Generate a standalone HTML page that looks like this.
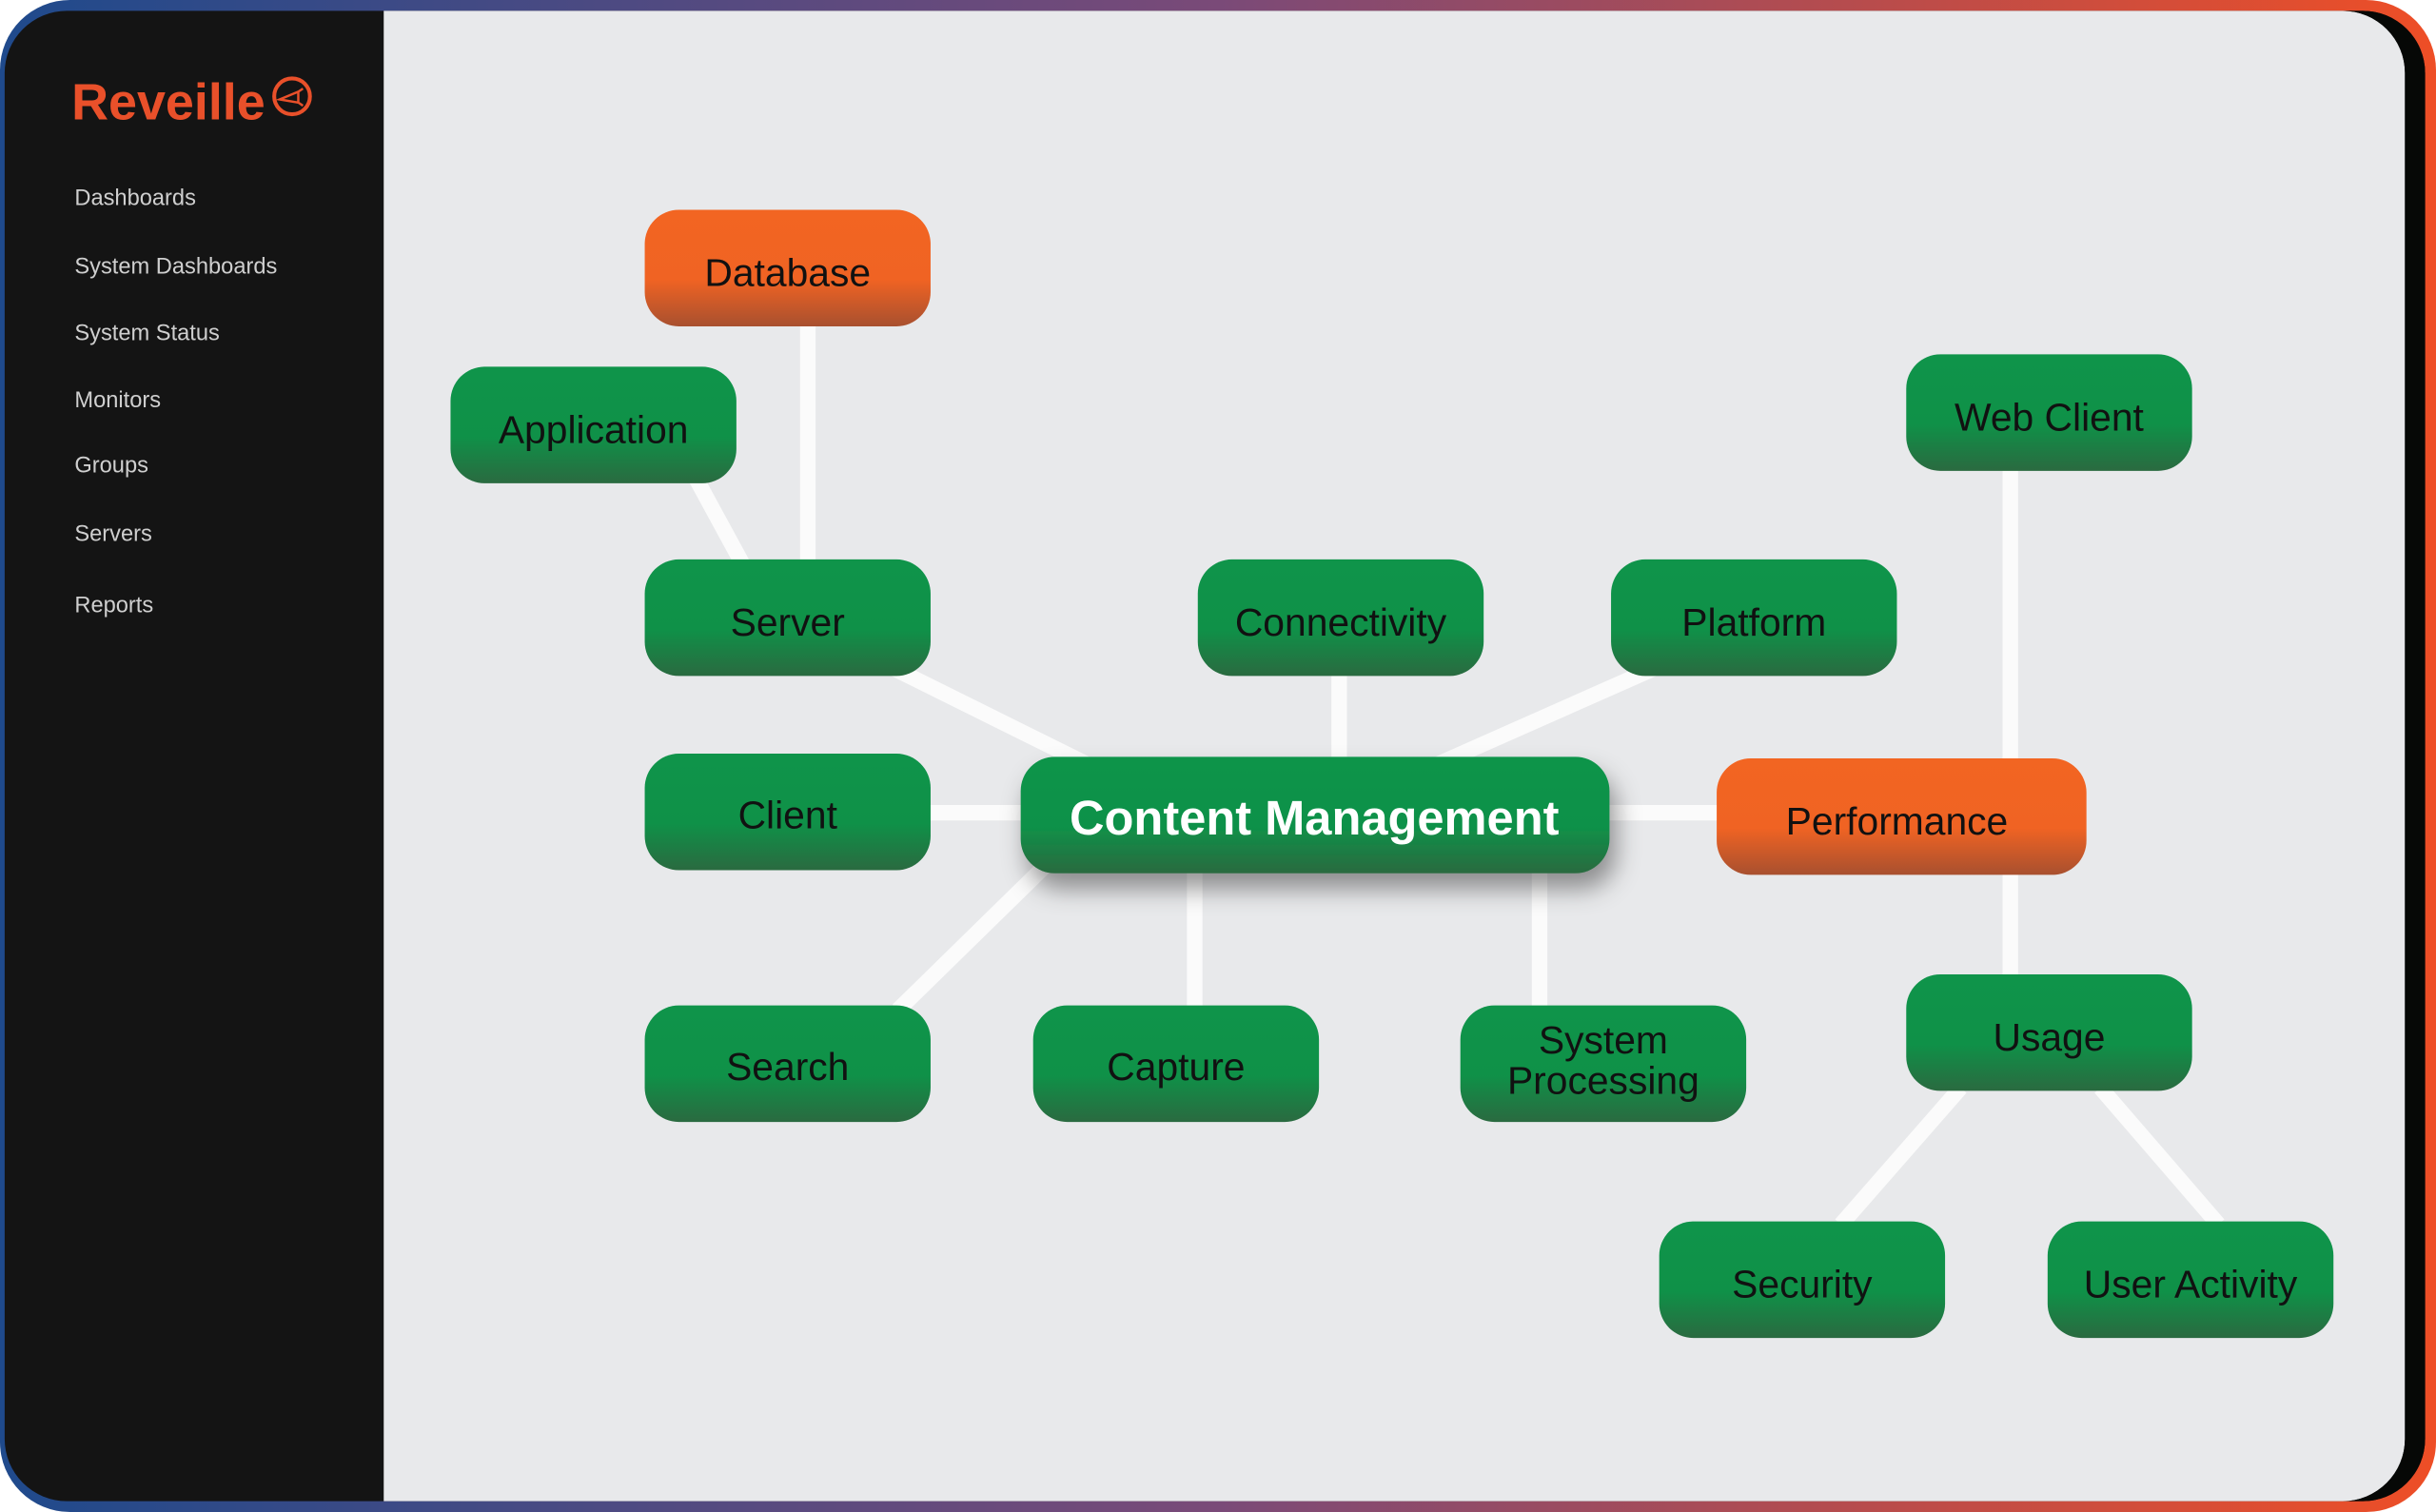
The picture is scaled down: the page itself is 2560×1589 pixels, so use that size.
<!DOCTYPE html>
<html><head><meta charset="utf-8"><style>
html,body{margin:0;padding:0;background:#fff;}
svg{display:block;}
text{font-family:"Liberation Sans",sans-serif;}
</style></head><body>
<svg width="2560" height="1589" viewBox="0 0 1568 973" preserveAspectRatio="none" xmlns="http://www.w3.org/2000/svg">
<defs>
<linearGradient id="bd" x1="0" y1="0" x2="1" y2="0">
<stop offset="0" stop-color="#1f4a8c"/><stop offset="0.5" stop-color="#7a4a78"/><stop offset="1" stop-color="#ee4e26"/>
</linearGradient>
<linearGradient id="gg" x1="0" y1="0" x2="0" y2="1">
<stop offset="0" stop-color="#0f944a"/><stop offset="0.6" stop-color="#0f9148"/><stop offset="1" stop-color="#2a6a40"/>
</linearGradient>
<linearGradient id="og" x1="0" y1="0" x2="0" y2="1">
<stop offset="0" stop-color="#f26522"/><stop offset="0.6" stop-color="#f06323"/><stop offset="1" stop-color="#a8502f"/>
</linearGradient>
<filter id="sh" x="-20%" y="-40%" width="140%" height="200%"><feDropShadow dx="4" dy="10" stdDeviation="8" flood-color="#000" flood-opacity="0.4"/></filter>
</defs>
<rect x="0" y="0" width="1568" height="973" rx="45" fill="url(#bd)"/>
<rect x="3" y="7" width="1558" height="959" rx="40" fill="#141414"/>
<path d="M247 7 H1508 A40 40 0 0 1 1548 47 V926 A40 40 0 0 1 1508 966 H247 Z" fill="#e8e9eb"/>
<path d="M1520 7 A40 40 0 0 1 1561 47 V926 A40 40 0 0 1 1520 966 H1508 A40 40 0 0 0 1548 926 V47 A40 40 0 0 0 1508 7 Z" fill="#060806"/>
<text x="46" y="77" font-size="33" font-weight="bold" fill="#e9502a">Reveille</text>
<circle cx="188" cy="62" r="11.5" fill="none" stroke="#e9502a" stroke-width="2.5"/>
<path d="M180 64 L192 59 L192 66 Z M192 59 l3 -2 M192 66 l3 2" stroke="#e9502a" stroke-width="1.5" fill="none"/>
<g font-size="14.5" fill="#cfcfcf">
<text x="48" y="132">Dashboards</text>
<text x="48" y="176">System Dashboards</text>
<text x="48" y="219">System Status</text>
<text x="48" y="262">Monitors</text>
<text x="48" y="304">Groups</text>
<text x="48" y="348">Servers</text>
<text x="48" y="394">Reports</text>
</g>
<g stroke="#fbfbfb" stroke-width="10" fill="none">
<line x1="520" y1="205" x2="520" y2="365"/>
<line x1="447" y1="306" x2="478" y2="363"/>
<line x1="575" y1="430" x2="700" y2="492"/>
<line x1="862" y1="430" x2="862" y2="492"/>
<line x1="1065" y1="430" x2="925" y2="492"/>
<line x1="595" y1="523" x2="660" y2="523"/>
<line x1="1030" y1="523" x2="1110" y2="523"/>
<line x1="578" y1="650" x2="672" y2="558"/>
<line x1="769" y1="555" x2="769" y2="650"/>
<line x1="991" y1="555" x2="991" y2="650"/>
<line x1="1294" y1="298" x2="1294" y2="492"/>
<line x1="1294" y1="558" x2="1294" y2="632"/>
<line x1="1262" y1="700" x2="1185" y2="788"/>
<line x1="1352" y1="700" x2="1428" y2="788"/>
</g>
<g font-size="25" fill="#111" text-anchor="middle">
<rect x="415" y="135" width="184" height="75" rx="22" fill="url(#og)"/><text x="507" y="184">Database</text>
<rect x="290" y="236" width="184" height="75" rx="22" fill="url(#gg)"/><text x="382" y="285">Application</text>
<rect x="415" y="360" width="184" height="75" rx="22" fill="url(#gg)"/><text x="507" y="409">Server</text>
<rect x="771" y="360" width="184" height="75" rx="22" fill="url(#gg)"/><text x="863" y="409">Connectivity</text>
<rect x="1037" y="360" width="184" height="75" rx="22" fill="url(#gg)"/><text x="1129" y="409">Platform</text>
<rect x="1227" y="228" width="184" height="75" rx="22" fill="url(#gg)"/><text x="1319" y="277">Web Client</text>
<rect x="415" y="485" width="184" height="75" rx="22" fill="url(#gg)"/><text x="507" y="533">Client</text>
<rect x="1105" y="488" width="238" height="75" rx="22" fill="url(#og)"/><text x="1221" y="537">Performance</text>
<rect x="415" y="647" width="184" height="75" rx="22" fill="url(#gg)"/><text x="507" y="695">Search</text>
<rect x="665" y="647" width="184" height="75" rx="22" fill="url(#gg)"/><text x="757" y="695">Capture</text>
<rect x="940" y="647" width="184" height="75" rx="22" fill="url(#gg)"/><text x="1032" y="678">System</text><text x="1032" y="704">Processing</text>
<rect x="1227" y="627" width="184" height="75" rx="22" fill="url(#gg)"/><text x="1319" y="676">Usage</text>
<rect x="1068" y="786" width="184" height="75" rx="22" fill="url(#gg)"/><text x="1160" y="835">Security</text>
<rect x="1318" y="786" width="184" height="75" rx="22" fill="url(#gg)"/><text x="1410" y="835">User Activity</text>
</g>
<rect x="657" y="487" width="379" height="75" rx="22" fill="url(#gg)" filter="url(#sh)"/>
<text x="846" y="537" font-size="31" font-weight="bold" fill="#fff" text-anchor="middle">Content Management</text>
</svg>
</body></html>
